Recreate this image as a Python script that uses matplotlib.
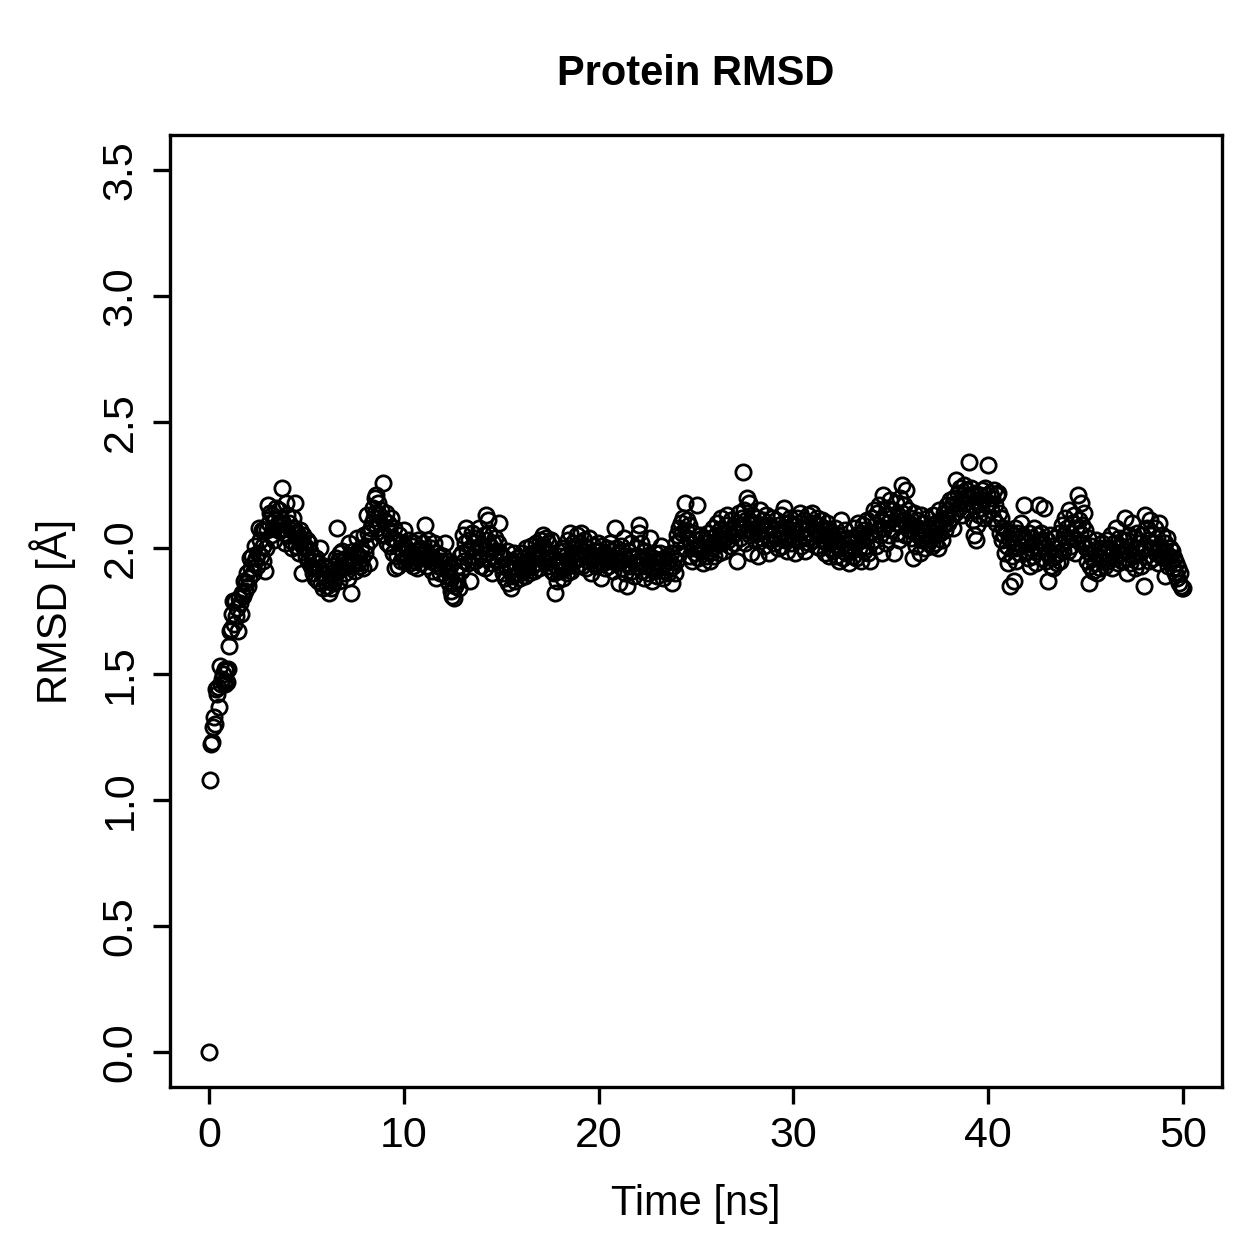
import numpy as np
import matplotlib
matplotlib.use("Agg")
import matplotlib.pyplot as plt

plt.rcParams['font.family'] = ['Liberation Sans', 'DejaVu Sans']

# RMSD trace, one frame every 0.05 ns (rows of 1 ns)
rmsd = [
    0.00, 1.08, 1.22, 1.23, 1.29, 1.33, 1.30, 1.44, 1.42, 1.45, 1.37, 1.53, 1.46, 1.48, 1.50, 1.47, 1.52, 1.46, 1.51, 1.47,
    1.52, 1.61, 1.67, 1.68, 1.74, 1.79, 1.70, 1.79, 1.73, 1.76, 1.67, 1.80, 1.78, 1.74, 1.82, 1.81, 1.87, 1.83, 1.86, 1.90,
    1.85, 1.88, 1.96, 1.92, 1.97, 1.90, 1.94, 2.01, 1.96, 1.93, 1.98, 2.08, 2.03, 1.97, 2.07, 2.01, 1.95, 2.07, 1.91, 2.00,
    2.07, 2.17, 2.10, 2.14, 2.05, 2.13, 2.08, 2.03, 2.11, 2.16, 2.09, 2.07, 2.15, 2.12, 2.07, 2.24, 2.10, 2.06, 2.02, 2.18,
    2.13, 2.05, 2.10, 2.03, 2.07, 2.00, 2.12, 2.08, 2.18, 2.01, 2.06, 2.04, 1.98, 2.07, 2.02, 2.03, 1.90, 2.05, 2.00, 2.01,
    1.97, 2.03, 1.95, 2.02, 1.99, 1.93, 1.97, 1.90, 1.92, 1.88, 1.96, 1.94, 1.87, 1.92, 2.00, 1.86, 1.90, 1.84, 1.93, 1.87,
    1.88, 1.85, 1.92, 1.82, 1.87, 1.84, 1.90, 1.86, 1.88, 1.93, 1.96, 2.08, 1.91, 1.95, 1.87, 1.98, 1.93, 1.99, 1.92, 1.95,
    1.90, 1.96, 1.94, 1.88, 2.02, 1.97, 1.82, 1.93, 1.99, 1.95, 1.91, 1.98, 2.04, 1.94, 1.97, 1.93, 2.00, 1.96, 1.92, 2.05,
    1.98, 2.01, 2.13, 2.06, 1.94, 2.03, 2.08, 2.10, 2.16, 2.12, 2.20, 2.14, 2.21, 2.08, 2.18, 2.13, 2.10, 2.15, 2.05, 2.26,
    2.11, 2.05, 2.14, 2.02, 2.10, 2.07, 2.01, 2.12, 2.04, 1.98, 2.08, 1.92, 2.03, 1.97, 1.93, 2.05, 2.00, 1.95, 2.02, 1.98,
    2.07, 1.95, 2.00, 1.96, 1.99, 2.03, 1.94, 1.98, 2.01, 1.93, 1.97, 2.02, 1.95, 1.99, 1.92, 2.03, 1.96, 2.00, 1.94, 1.98,
    2.02, 1.96, 2.09, 1.99, 1.93, 2.03, 1.97, 1.95, 2.00, 1.91, 1.96, 2.02, 1.94, 1.88, 1.98, 1.93, 1.97, 1.90, 1.95, 1.92,
    1.97, 1.94, 2.02, 1.89, 1.95, 1.91, 1.86, 1.93, 1.88, 1.83, 1.81, 1.86, 1.80, 1.85, 1.90, 1.87, 1.93, 1.84, 1.97, 1.91,
    1.98, 2.05, 1.95, 2.02, 2.08, 1.99, 1.94, 2.03, 1.87, 2.00, 2.06, 1.97, 2.02, 1.95, 1.99, 2.04, 1.96, 2.08, 2.01, 1.93,
    2.00, 1.96, 2.05, 1.92, 2.13, 2.03, 2.11, 1.98, 2.06, 2.01, 1.94, 1.90, 2.02, 1.97, 2.04, 1.99, 1.95, 2.02, 2.10, 1.98,
    1.93, 1.97, 1.90, 1.96, 1.88, 1.93, 1.99, 1.86, 1.94, 1.91, 1.84, 1.95, 1.89, 1.98, 1.87, 1.92, 1.96, 1.90, 1.95, 1.88,
    1.93, 1.98, 1.91, 1.96, 1.89, 1.94, 2.00, 1.92, 1.97, 1.90, 1.95, 2.01, 1.93, 1.98, 1.91, 1.96, 2.02, 1.94, 1.99, 1.92,
    2.03, 1.97, 2.01, 2.05, 1.95, 2.00, 2.04, 1.96, 2.02, 1.93, 1.98, 2.03, 1.91, 1.96, 1.90, 1.82, 1.93, 1.87, 1.95, 1.91,
    1.97, 1.93, 2.00, 1.88, 1.95, 1.99, 1.92, 1.97, 1.90, 2.03, 1.94, 2.06, 1.91, 1.98, 2.02, 1.95, 2.00, 1.93, 2.05, 1.98,
    2.02, 1.96, 2.06, 1.93, 1.99, 2.03, 1.97, 1.92, 2.00, 1.95, 2.04, 1.98, 1.90, 1.96, 2.01, 1.94, 1.99, 1.93, 1.97, 2.02,
    1.95, 1.99, 1.88, 1.97, 2.01, 1.94, 1.98, 1.92, 1.96, 2.00, 1.93, 1.97, 2.02, 1.95, 1.99, 1.91, 1.96, 2.08, 2.00, 1.94,
    1.98, 1.86, 1.95, 2.01, 1.92, 1.97, 2.04, 1.90, 1.94, 1.85, 1.99, 1.93, 1.97, 2.02, 1.91, 1.96, 1.89, 1.94, 2.00, 1.93,
    1.97, 2.06, 2.09, 1.95, 2.02, 1.91, 1.96, 1.88, 1.99, 1.93, 1.97, 1.90, 1.95, 2.04, 1.92, 1.87, 1.96, 1.91, 1.98, 1.94,
    1.89, 1.95, 1.92, 1.98, 2.01, 1.93, 1.88, 1.96, 1.91, 1.94, 1.97, 1.90, 1.95, 1.92, 1.98, 1.86, 1.93, 1.96, 1.90, 1.95,
    2.02, 2.05, 1.98, 2.08, 2.03, 2.10, 2.06, 2.12, 2.00, 2.18, 2.07, 2.11, 2.04, 2.09, 1.97, 2.02, 1.95, 2.06, 2.00, 1.98,
    2.03, 2.17, 1.96, 2.01, 2.05, 1.99, 2.04, 1.94, 2.00, 2.03, 1.97, 2.02, 2.06, 1.99, 1.95, 2.04, 2.00, 2.08, 2.02, 1.97,
    2.01, 2.05, 2.10, 2.03, 1.98, 2.07, 2.12, 2.02, 2.06, 1.99, 2.04, 2.09, 2.13, 2.03, 2.07, 2.01, 2.11, 2.05, 2.08, 2.02,
    2.06, 2.10, 1.95, 2.08, 2.14, 2.04, 2.09, 2.12, 2.30, 2.15, 2.02, 2.11, 2.20, 2.07, 2.18, 2.05, 2.09, 1.98, 2.13, 2.06,
    2.10, 2.03, 2.08, 2.12, 1.97, 2.06, 2.15, 2.09, 2.04, 2.11, 2.01, 2.07, 2.13, 2.05, 2.09, 1.98, 2.03, 2.08, 2.12, 2.05,
    2.02, 2.07, 2.11, 2.04, 2.00, 2.09, 2.05, 2.13, 2.01, 2.06, 2.16, 2.03, 2.08, 1.99, 2.05, 2.10, 2.04, 2.12, 2.02, 2.07,
    2.04, 2.09, 1.98, 2.06, 2.12, 2.03, 2.10, 2.14, 2.01, 2.07, 2.05, 2.11, 1.99, 2.08, 2.04, 2.13, 2.02, 2.09, 2.06, 2.14,
    2.03, 2.10, 2.07, 2.01, 2.12, 2.05, 2.09, 2.00, 2.06, 2.11, 2.03, 2.08, 1.98, 2.05, 2.10, 2.02, 2.07, 1.97, 2.04, 2.00,
    2.06, 1.99, 2.03, 2.08, 1.97, 2.01, 2.05, 1.95, 2.00, 2.11, 2.03, 1.96, 2.02, 2.07, 1.98, 2.04, 2.00, 1.94, 2.03, 1.99,
    2.04, 1.97, 2.08, 2.02, 1.96, 2.05, 2.10, 2.00, 2.06, 1.95, 2.03, 2.09, 1.99, 2.07, 2.04, 2.01, 2.11, 1.98, 2.05, 1.95,
    2.06, 2.12, 2.03, 2.15, 2.09, 2.01, 2.14, 2.07, 2.17, 2.05, 2.11, 1.98, 2.21, 2.08, 2.13, 2.02, 2.16, 2.10, 2.05, 2.19,
    2.12, 2.07, 2.15, 1.98, 2.10, 2.18, 2.06, 2.13, 2.03, 2.20, 2.09, 2.14, 2.25, 2.11, 2.17, 2.05, 2.23, 2.10, 2.15, 2.07,
    2.12, 2.04, 2.09, 1.96, 2.14, 2.06, 2.01, 2.11, 2.05, 2.08, 1.98, 2.13, 2.03, 2.07, 2.10, 2.00, 2.06, 2.12, 2.02, 2.08,
    2.04, 2.09, 2.01, 2.13, 2.06, 2.02, 2.10, 2.05, 2.00, 2.08, 2.15, 2.06, 2.11, 2.03, 2.09, 2.14, 2.07, 2.12, 2.17, 2.10,
    2.15, 2.19, 2.12, 2.17, 2.08, 2.20, 2.14, 2.27, 2.18, 2.22, 2.16, 2.24, 2.19, 2.13, 2.21, 2.25, 2.18, 2.23, 2.15, 2.21,
    2.34, 2.20, 2.24, 2.17, 2.11, 2.05, 2.22, 2.03, 2.15, 2.09, 2.18, 2.13, 2.21, 2.16, 2.23, 2.19, 2.12, 2.24, 2.17, 2.21,
    2.33, 2.18, 2.22, 2.15, 2.20, 2.12, 2.23, 2.17, 2.10, 2.21, 2.22, 2.14, 2.06, 2.12, 2.03, 2.08, 2.05, 1.98, 2.07, 2.01,
    1.94, 2.04, 1.85, 2.06, 1.97, 2.02, 1.87, 2.08, 2.00, 1.95, 2.06, 2.02, 1.98, 2.04, 2.10, 2.01, 2.05, 2.17, 2.03, 1.99,
    2.02, 1.96, 2.06, 1.93, 2.00, 2.04, 1.97, 2.08, 2.01, 1.94, 2.05, 1.99, 2.17, 2.03, 2.06, 1.96, 2.02, 2.16, 2.00, 1.95,
    2.03, 1.87, 1.98, 2.05, 1.93, 2.01, 1.96, 1.92, 2.04, 1.97, 2.00, 1.94, 1.98, 2.06, 1.95, 2.02, 2.09, 1.99, 2.05, 2.12,
    2.03, 2.08, 1.99, 2.15, 2.06, 2.01, 2.10, 2.04, 2.13, 1.98, 2.08, 2.03, 2.21, 2.11, 2.06, 2.18, 2.09, 2.02, 2.14, 2.07,
    2.00, 1.95, 2.04, 1.86, 1.98, 1.93, 2.01, 1.96, 1.91, 1.99, 1.94, 2.03, 1.90, 1.97, 2.00, 1.92, 1.96, 2.02, 1.95, 1.99,
    1.93, 1.98, 2.03, 1.95, 2.00, 1.97, 2.05, 1.92, 1.99, 2.02, 1.96, 2.08, 2.00, 1.94, 2.04, 1.98, 2.01, 1.95, 2.03, 1.99,
    2.12, 1.96, 2.03, 1.90, 1.99, 2.05, 1.94, 2.01, 2.10, 1.97, 2.04, 1.92, 2.00, 2.06, 1.95, 2.02, 1.98, 1.93, 2.05, 2.00,
    1.85, 2.13, 1.97, 2.08, 2.03, 1.95, 2.11, 2.00, 2.06, 1.96, 2.02, 2.08, 1.98, 2.04, 1.94, 2.10, 2.01, 1.97, 2.05, 1.99,
    1.96, 2.02, 1.89, 1.98, 2.04, 1.93, 1.97, 2.00, 1.95, 1.99, 1.92, 1.96, 1.90, 1.94, 1.88, 1.92, 1.86, 1.90, 1.85, 1.84,
    1.84,
]
time_ns = np.arange(len(rmsd)) * 0.05

x_ticks = [0, 10, 20, 30, 40, 50]
y_ticks = [0.0, 0.5, 1.0, 1.5, 2.0, 2.5, 3.0, 3.5]

fig = plt.figure(figsize=(12.59, 12.59), dpi=100)
ax = fig.add_axes([0.135, 0.1366, 0.8356, 0.7562])

ax.plot(time_ns, rmsd, linestyle="none", marker="o", markersize=11,
        markerfacecolor="none", markeredgecolor="black", markeredgewidth=2.0)

ax.set_xlim(-2, 52)
ax.set_ylim(-0.14, 3.64)
ax.set_xticks(x_ticks)
ax.set_xticklabels([str(v) for v in x_ticks])
ax.set_yticks(y_ticks)
ax.set_yticklabels(["%.1f" % v for v in y_ticks], rotation=90, va="center")

for s in ax.spines.values():
    s.set_linewidth(2.4)
ax.tick_params(axis="both", length=12, width=2.4, labelsize=31, pad=9, direction="out")

ax.set_xlabel("Time [ns]", fontsize=30, labelpad=20)
ax.set_ylabel("RMSD [Å]", fontsize=30, labelpad=18)
ax.set_title("Protein RMSD", fontsize=30, fontweight="bold", pad=36)

fig.savefig("out.png", dpi=100)
